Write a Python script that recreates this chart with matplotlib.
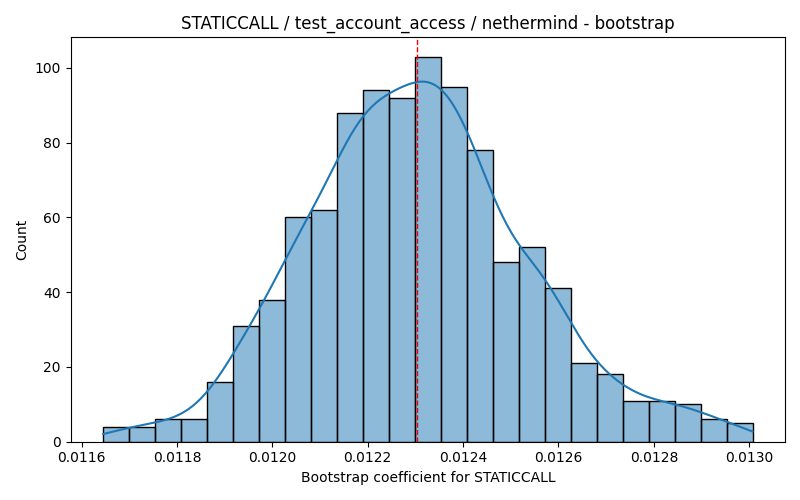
import matplotlib
matplotlib.use("Agg")
import matplotlib.pyplot as plt
import numpy as np
import seaborn as sns

# bin counts
bin_lo = 0.011645
bin_hi = 0.013007
counts = [4, 4, 6, 6, 16, 31, 38, 60, 62, 88, 94, 92, 103, 95, 78,
          48, 52, 41, 21, 18, 11, 11, 10, 6, 5]
mean_coef = 0.012303

edges = np.linspace(bin_lo, bin_hi, len(counts) + 1)
centers = (edges[:-1] + edges[1:]) / 2
w = np.array(counts, dtype=float)

fig, ax = plt.subplots(figsize=(8, 5), dpi=100)
sns.histplot(x=centers, weights=w, bins=len(counts), binrange=(bin_lo, bin_hi),
             ax=ax, color="C0", alpha=0.5, edgecolor="black", linewidth=1)

# kde from the binned counts (scott bandwidth, n = total count)
n = w.sum()
mu = np.sum(w * centers) / n
sd = np.sqrt(np.sum(w * (centers - mu) ** 2) / n)
bw = sd * n ** (-1 / 5) * 0.95
xs = np.linspace(bin_lo, bin_hi, 300)
dens = (w[None, :] * np.exp(-0.5 * ((xs[:, None] - centers[None, :]) / bw) ** 2)).sum(axis=1)
dens = dens / (n * bw * np.sqrt(2 * np.pi))
ax.plot(xs, dens * n * (edges[1] - edges[0]), color="C0", linewidth=1.5)

ax.axvline(mean_coef, color="red", linestyle="--", linewidth=1)
ax.set_title("STATICCALL / test_account_access / nethermind - bootstrap")
ax.set_xlabel("Bootstrap coefficient for STATICCALL")
ax.set_ylabel("Count")
fig.tight_layout()
fig.savefig("out.png")
